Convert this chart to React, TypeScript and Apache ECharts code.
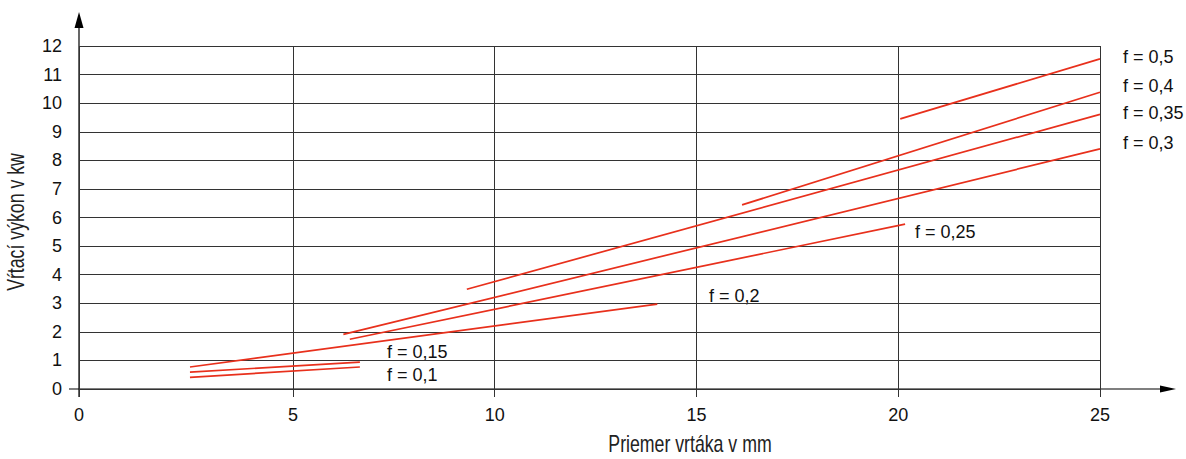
import React, { useEffect, useRef } from "react";
import * as echarts from "echarts";

// Drill diameter (mm) -> drilling power (kW), one straight segment per feed f
const seriesNames = ["f = 0,1", "f = 0,15", "f = 0,2", "f = 0,25", "f = 0,3", "f = 0,35", "f = 0,4", "f = 0,5"];
const f01 = [[2.45, 0.41], [6.66, 0.77]];
const f015 = [[2.45, 0.59], [6.66, 0.94]];
const f02 = [[2.45, 0.77], [14.03, 2.97]];
const f025 = [[6.41, 1.74], [20.17, 5.77]];
const f03 = [[6.25, 1.91], [25, 8.4]];
const f035 = [[9.31, 3.49], [25, 9.61]];
const f04 = [[16.13, 6.44], [25, 10.38]];
const f05 = [[20.05, 9.45], [25, 11.55]];
const seriesData = [f01, f015, f02, f025, f03, f035, f04, f05];

const xTickValues = [-0.3, 5, 10, 15, 20, 25];
const yMin = 0;
const yMax = 12;
const xTitle = "Priemer vrtáka v mm";
const yTitle = "Vŕtací výkon v kw";

const RED = "#e8301c";
const GRID = "#333";
const SANS = "'Liberation Sans', Arial, Helvetica, sans-serif";

const labelPos: [number, number][] = [
  [387, 375],
  [387, 352],
  [709, 296],
  [915, 232],
  [1123, 143],
  [1123, 113],
  [1123, 86],
  [1123, 57],
];

export default function App() {
  const ref = useRef<HTMLDivElement>(null);
  useEffect(() => {
    document.body.style.margin = "0";
    const chart = echarts.init(ref.current!, undefined, { renderer: "svg" });
    const option: any = {
      animation: false,
      backgroundColor: "#fff",
      grid: { left: 79, right: 86, top: 46, bottom: 70, containLabel: false },
      xAxis: {
        type: "value",
        min: -0.3,
        max: 25,
        axisLine: { show: false },
        axisTick: { show: true, length: 8, customValues: xTickValues, lineStyle: { color: GRID, width: 1 } },
        axisLabel: {
          customValues: xTickValues,
          formatter: (v: number) => (v < 0 ? "0" : String(v)),
          margin: 17,
          fontSize: 18,
          color: "#111",
          fontFamily: SANS,
        },
        splitLine: { show: true, lineStyle: { color: GRID, width: 1 } },
      },
      yAxis: {
        type: "value",
        min: yMin,
        max: yMax,
        interval: 1,
        axisLine: { show: false },
        axisTick: { show: true, length: 10, lineStyle: { color: GRID, width: 1 } },
        axisLabel: { margin: 17, fontSize: 18, color: "#111", fontFamily: SANS },
        splitLine: { show: true, lineStyle: { color: GRID, width: 1 } },
      },
      series: seriesData.map((d, i) => ({
        type: "line",
        name: seriesNames[i],
        data: d,
        symbol: "none",
        silent: true,
        lineStyle: { color: RED, width: 1.7 },
      })),
      graphic: [
        // y axis with arrow
        { type: "line", shape: { x1: 79, y1: 397, x2: 79, y2: 26 }, style: { stroke: "#000", lineWidth: 1.2 } },
        { type: "polygon", shape: { points: [[79, 12], [74.5, 28], [83.5, 28]] }, style: { fill: "#000" } },
        // x axis with arrow
        { type: "line", shape: { x1: 69, y1: 389, x2: 1162, y2: 389 }, style: { stroke: "#000", lineWidth: 1.2 } },
        { type: "polygon", shape: { points: [[1176, 389], [1160, 385.5], [1160, 392.5]] }, style: { fill: "#000" } },
        // axis titles
        {
          type: "text",
          x: 690,
          y: 444,
          scaleX: 0.77,
          style: { text: xTitle, font: `23px ${SANS}`, fill: "#222", align: "center", verticalAlign: "middle" },
        },
        {
          type: "text",
          x: 16,
          y: 222,
          rotation: Math.PI / 2,
          scaleX: 0.77,
          style: { text: yTitle, font: `23px ${SANS}`, fill: "#222", align: "center", verticalAlign: "middle" },
        },
        // curve labels
        ...seriesNames.map((n, i) => ({
          type: "text",
          x: labelPos[i][0],
          y: labelPos[i][1],
          style: { text: n, font: `18px ${SANS}`, fill: "#111", align: "left", verticalAlign: "middle" },
        })),
      ],
    };
    chart.setOption(option);
    return () => chart.dispose();
  }, []);
  return <div ref={ref} style={{ position: "fixed", left: 0, top: 0, width: 1186, height: 459 }} />;
}
